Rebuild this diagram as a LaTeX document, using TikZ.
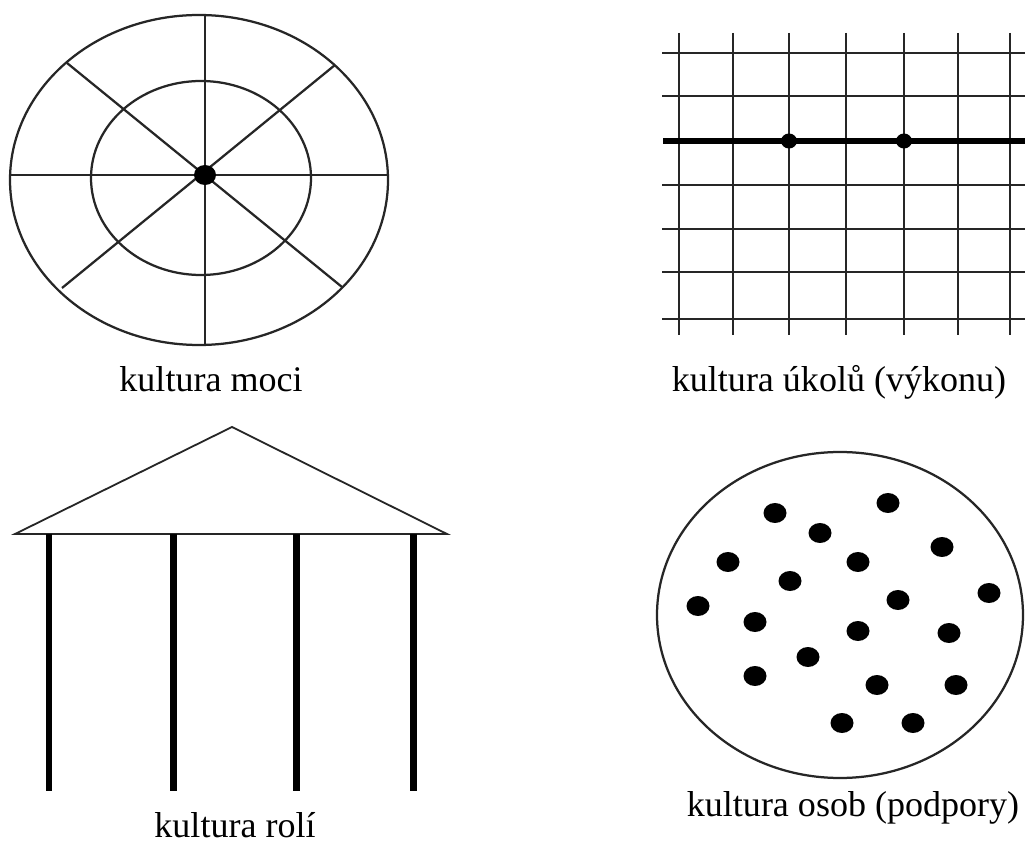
\documentclass[tikz,border=0pt]{standalone}
\usepackage{fontspec}
\setmainfont{Liberation Serif}
\tikzset{
  thinline/.style={line width=0.045cm, black!85},
  roofline/.style={line width=0.036cm, black!85},
  thickline/.style={line width=0.12cm, black},
  pillar/.style={line width=0.14cm, black},
  lbl/.style={anchor=base, inner sep=0pt, font=\fontsize{20.5}{24}\selectfont},
  blob/.style={fill=black}
}
\begin{document}
\begin{tikzpicture}[x=0.02cm,y=-0.02cm]
\useasboundingbox (0,0) rectangle (1025,844);
\fill[white] (0,0) rectangle (1025,844);
% --- kultura moci
\draw[thinline] (199,180) ellipse [x radius=189, y radius=165];
\draw[thinline] (201,178) ellipse [x radius=110, y radius=97];
\coordinate (c) at (205,175);
\draw[thinline] (10,175) -- (388,175);
\draw[thinline] (205,15) -- (205,345);
\draw[thinline] (67,63) -- (342,287);
\draw[thinline] (335,65) -- (62,288);
\fill[blob] (c) ellipse [x radius=11, y radius=10];
\node[lbl] (l1) at (211,392) {kultura moci};
% --- kultura ukolu
\foreach \x in {679,733,789,846,904,958,1010}
  \draw[thinline] (\x,33) -- (\x,335);
\foreach \y in {53,96,185,229,272,319}
  \draw[thinline] (662,\y) -- (1025,\y);
\draw[thickline] (663,141) -- (1025,141);
\fill[blob] (789,141) ellipse [x radius=8, y radius=7.5];
\fill[blob] (904,141) ellipse [x radius=8, y radius=7.5];
\node[lbl] (l2) at (839,392) {kultura úkolů (výkonu)};
% --- kultura roli
\draw[roofline, line join=miter] (15,534) -- (232,427) -- (447,534) -- cycle;
\foreach \x in {49,173,296,413}
  \draw[pillar] (\x,534) -- (\x,791);
\node[lbl] (l3) at (235,837) {kultura rolí};
% --- kultura osob
\draw[thinline] (840,615) ellipse [x radius=183, y radius=163];
\foreach \p in {(775,513),(888,503),(820,533),(942,547),(728,562),(858,562),(790,581),(989,593),(698,606),(898,600),(755,622),(858,631),(949,633),(808,657),(755,676),(877,685),(956,685),(842,723),(913,723)}
  \fill[blob] \p ellipse [x radius=11.5, y radius=10];
\node[lbl] (l4) at (853,816) {kultura osob (podpory)};
\end{tikzpicture}
\end{document}
